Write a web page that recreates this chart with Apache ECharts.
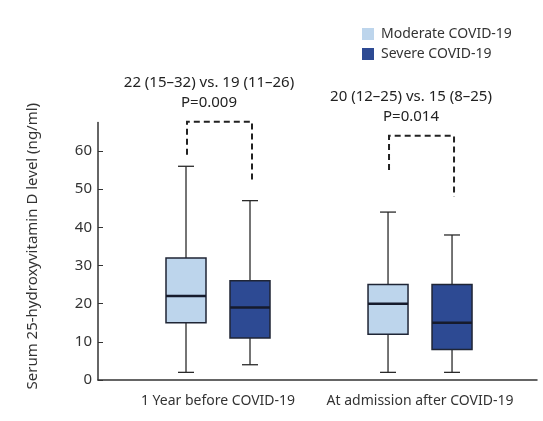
<!DOCTYPE html>
<html><head><meta charset="utf-8">
<script src="https://cdn.jsdelivr.net/npm/echarts@6/dist/echarts.min.js"></script>
<style>html,body{margin:0;padding:0;background:#fff}#c{width:543px;height:421px}</style>
</head><body><div id="c"></div>
<script>
// ---- data ----
var categories = ['1 Year before COVID-19', 'At admission after COVID-19'];
var seriesNames = ['Moderate COVID-19', 'Severe COVID-19'];
// [min, Q1, median, Q3, max] per category
var moderateBox = [[2, 15, 22, 32, 56], [2, 12, 20, 25, 44]];
var severeBox = [[4, 11, 19, 26, 47], [2, 8, 15, 25, 38]];
var yTicks = [0, 10, 20, 30, 40, 50, 60];
var summaryText = ['22 (15\u201332) vs. 19 (11\u201326)', '20 (12\u201325) vs. 15 (8\u201325)'];
var pText = ['P=0.009', 'P=0.014'];
var bracketTop = [67.7, 64];
var bracketLeftEnd = [59, 55];
var bracketRightEnd = [52, 48];

var FONT = 'Noto Sans';
var colors = ['#bdd5ec', '#2d4a93'];
var offsets = [-32, 32];
var BOXW = 40;

function boxRender(si) {
  return function (params, api) {
    var g = api.value(0);
    var cx = api.coord([g, 0])[0] + offsets[si];
    var yMin = api.coord([g, api.value(1)])[1];
    var yQ1 = api.coord([g, api.value(2)])[1];
    var yMed = api.coord([g, api.value(3)])[1];
    var yQ3 = api.coord([g, api.value(4)])[1];
    var yMax = api.coord([g, api.value(5)])[1];
    var lc = '#2a2a2a';
    return {
      type: 'group',
      children: [
        {type: 'line', shape: {x1: cx, y1: yMax, x2: cx, y2: yQ3}, style: {stroke: lc, lineWidth: 1.3}},
        {type: 'line', shape: {x1: cx, y1: yQ1, x2: cx, y2: yMin}, style: {stroke: lc, lineWidth: 1.3}},
        {type: 'line', shape: {x1: cx - 8, y1: yMax, x2: cx + 8, y2: yMax}, style: {stroke: lc, lineWidth: 1.3}},
        {type: 'line', shape: {x1: cx - 8, y1: yMin, x2: cx + 8, y2: yMin}, style: {stroke: lc, lineWidth: 1.3}},
        {type: 'rect', shape: {x: cx - BOXW / 2, y: yQ3, width: BOXW, height: yQ1 - yQ3},
          style: {fill: colors[si], stroke: '#1f2535', lineWidth: 1.5}},
        {type: 'line', shape: {x1: cx - BOXW / 2, y1: yMed, x2: cx + BOXW / 2, y2: yMed},
          style: {stroke: '#161b2c', lineWidth: 2.5}}
      ]
    };
  };
}

function toData(arr) {
  return arr.map(function (b, i) { return [i].concat(b); });
}

var bracketData = categories.map(function (c, i) {
  return [i, bracketTop[i], bracketLeftEnd[i], bracketRightEnd[i]];
});

function bracketRender(params, api) {
  var g = api.value(0);
  var base = api.coord([g, 0])[0];
  var xl = base + offsets[0] + 1;
  var xr = base + offsets[1] + 2;
  var yt = api.coord([g, api.value(1)])[1];
  var yl = api.coord([g, api.value(2)])[1];
  var yr = api.coord([g, api.value(3)])[1];
  var i = params.dataIndex;
  var tx = base - 9;
  return {
    type: 'group',
    children: [
      {type: 'polyline', shape: {points: [[xl, yl], [xl, yt], [xr, yt], [xr, yr]]},
        style: {stroke: '#222', lineWidth: 2, lineDash: [6, 4], fill: null}},
      {type: 'text', style: {x: tx, y: yt - 39, text: summaryText[i], align: 'center', verticalAlign: 'middle',
        fill: '#222', font: '15px "' + FONT + '"'}},
      {type: 'text', style: {x: tx, y: yt - 19, text: pText[i], align: 'center', verticalAlign: 'middle',
        fill: '#222', font: '15px "' + FONT + '"'}}
    ]
  };
}

var chart = echarts.init(document.getElementById('c'), null, {renderer: 'canvas'});
chart.setOption({
  animation: false,
  textStyle: {fontFamily: FONT},
  grid: {left: 98, right: 6, top: 122.4, bottom: 41, containLabel: false},
  legend: {
    orient: 'vertical', left: 357, top: 22, itemWidth: 12, itemHeight: 12, itemGap: 6,
    icon: 'rect', data: seriesNames,
    textStyle: {fontSize: 14, color: '#333', fontFamily: FONT, padding: [0, 0, 0, 2]}
  },
  xAxis: {
    type: 'value', min: -0.594, max: 1.579,
    axisLine: {show: true, onZero: false, lineStyle: {color: '#333', width: 1.5}},
    axisTick: {show: false}, splitLine: {show: false},
    axisLabel: {customValues: [0, 1], formatter: function (v) { return categories[Math.round(v)]; },
      fontSize: 14, color: '#333', margin: 14, fontFamily: FONT}
  },
  yAxis: {
    type: 'value', min: 0, max: 67.5,
    name: 'Serum 25-hydroxyvitamin D level (ng/ml)', nameLocation: 'middle', nameGap: 58,
    nameTextStyle: {fontSize: 15, color: '#333', fontFamily: FONT, padding: [0, 0, 0, 10]},
    axisLine: {show: true, onZero: false, lineStyle: {color: '#333', width: 1.5}},
    axisTick: {show: true, inside: true, length: 5, customValues: yTicks, lineStyle: {color: '#333'}},
    axisLabel: {customValues: yTicks, fontSize: 15, color: '#333', margin: 6, fontFamily: FONT},
    splitLine: {show: false}
  },
  series: [
    {type: 'custom', name: seriesNames[0], itemStyle: {color: colors[0]}, clip: false,
      renderItem: boxRender(0), data: toData(moderateBox), encode: {x: 0, y: [1, 2, 3, 4, 5]}},
    {type: 'custom', name: seriesNames[1], itemStyle: {color: colors[1]}, clip: false,
      renderItem: boxRender(1), data: toData(severeBox), encode: {x: 0, y: [1, 2, 3, 4, 5]}},
    {type: 'custom', name: 'brackets', clip: false, silent: true,
      renderItem: bracketRender, data: bracketData, encode: {x: 0, y: [1, 2, 3]}}
  ]
});
</script></body></html>
